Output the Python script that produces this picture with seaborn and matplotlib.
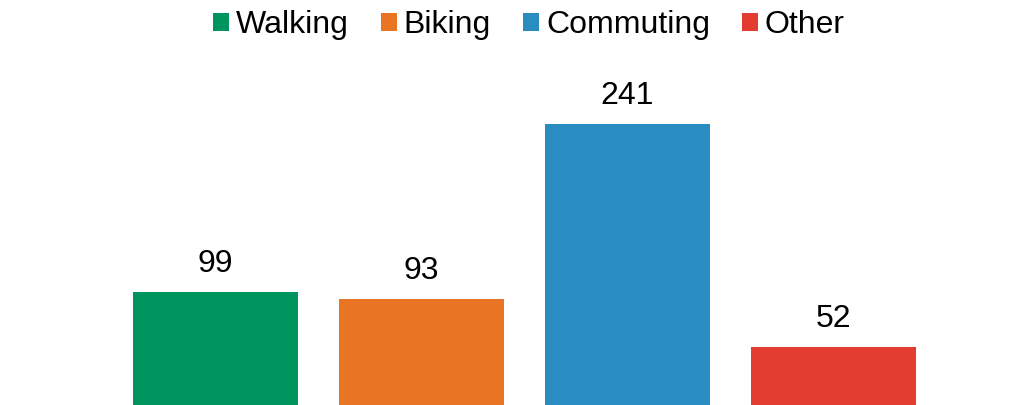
import matplotlib
matplotlib.use("Agg")
import matplotlib.pyplot as plt
from matplotlib.patches import Patch
import seaborn as sns
import pandas as pd

# Chart data
categories = ["Walking", "Biking", "Commuting", "Other"]
values = [99, 93, 241, 52]
colors = ["#00945F", "#E87424", "#2A8DC2", "#E33C30"]

sns.set_style("white")
plt.rcParams["font.family"] = ["Liberation Sans", "DejaVu Sans"]
plt.rcParams["text.color"] = "black"

df = pd.DataFrame({"category": categories, "value": values})

fig = plt.figure(figsize=(10.28, 4.05), dpi=100)
ax = fig.add_axes([112.5 / 1028, -4 / 405, 824 / 1028, 355 / 405])

sns.barplot(data=df, x="category", y="value", hue="category",
            palette=colors, dodge=False, width=0.8, legend=False,
            saturation=1, linewidth=0, ax=ax)

for i, v in enumerate(values):
    ax.annotate(str(v), xy=(i, v), xytext=(0, 9.5), textcoords="offset points",
                ha="center", va="bottom", fontsize=23, color="black")

ax.set_ylim(0, 300)
ax.set_xlim(-0.5, 3.5)
ax.axis("off")

handles = [Patch(facecolor=c, edgecolor="none", label=l) for c, l in zip(colors, categories)]
fig.legend(handles=handles, loc="center", bbox_to_anchor=(529 / 1028, 1 - 25 / 405),
           ncol=4, frameon=False, fontsize=23, handlelength=0.5, handleheight=0.5,
           handletextpad=0.22, columnspacing=1.0, labelcolor="black")

fig.savefig("out.png", dpi=100)
